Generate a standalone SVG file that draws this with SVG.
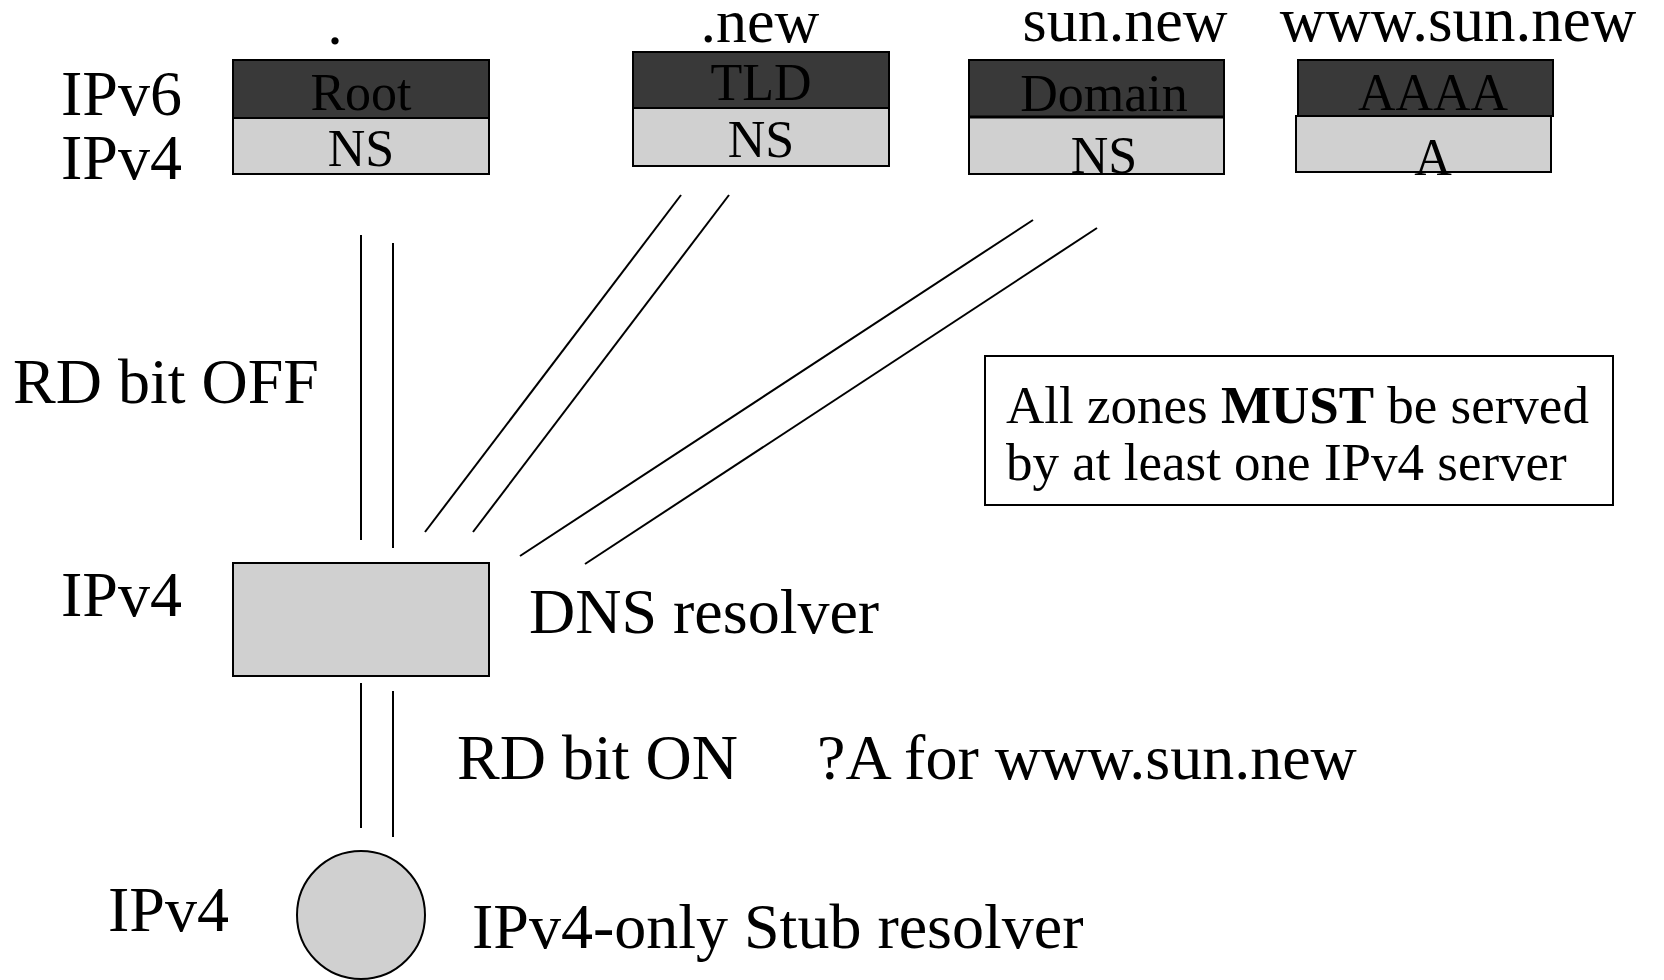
<svg xmlns="http://www.w3.org/2000/svg" width="1664" height="980" viewBox="0 0 1664 980">
<style>
text{font-family:"Liberation Serif","Times New Roman",serif;fill:#000}
.lbl{font-size:64px}
.top{font-size:62px}
.box{font-size:52px}
.note{font-size:53px}
.dark{fill:#393939;stroke:#000;stroke-width:2}
.light{fill:#d0d0d0;stroke:#000;stroke-width:2}
.ln{stroke:#000;stroke-width:2;fill:none}
</style>
<rect width="1664" height="980" fill="#fff"/>
<g id="side-labels">
<text class="lbl" x="61" y="115">IPv6</text>
<text class="lbl" x="61" y="179">IPv4</text>
<text class="lbl" x="13" y="403">RD bit OFF</text>
<text class="lbl" x="61" y="616">IPv4</text>
<text class="lbl" x="108" y="931">IPv4</text>
</g>
<g id="root">
<text class="top" x="335" y="44" text-anchor="middle">.</text>
<rect class="dark" x="233" y="60" width="256" height="58"/>
<rect class="light" x="233" y="118" width="256" height="56"/>
<text class="box" x="361" y="110" text-anchor="middle">Root</text>
<text class="box" x="361" y="166" text-anchor="middle">NS</text>
</g>
<g id="tld">
<text class="top" x="760" y="42" text-anchor="middle">.new</text>
<rect class="dark" x="633" y="52" width="256" height="56"/>
<rect class="light" x="633" y="108" width="256" height="58"/>
<text class="box" x="761" y="100" text-anchor="middle">TLD</text>
<text class="box" x="761" y="157" text-anchor="middle">NS</text>
</g>
<g id="domain">
<text class="top" x="1125" y="41" text-anchor="middle">sun.new</text>
<rect class="dark" x="969" y="60" width="255" height="57"/>
<rect class="light" x="969" y="117" width="255" height="57"/>
<line x1="969" y1="117" x2="1224" y2="117" stroke="#000" stroke-width="3"/>
<text class="box" x="1104" y="111" text-anchor="middle">Domain</text>
<text class="box" x="1104" y="173" text-anchor="middle">NS</text>
</g>
<g id="host">
<text class="top" x="1458" y="41" text-anchor="middle" style="font-size:63px">www.sun.new</text>
<rect class="dark" x="1298" y="60" width="255" height="56"/>
<rect class="light" x="1296" y="116" width="255" height="56"/>
<text class="box" x="1433" y="110" text-anchor="middle">AAAA</text>
<text class="box" x="1433" y="175" text-anchor="middle">A</text>
</g>
<g id="note">
<rect x="985" y="356" width="628" height="149" fill="#fff" stroke="#000" stroke-width="2"/>
<text class="note" x="1006" y="423">All zones <tspan font-weight="bold">MUST</tspan> be served</text>
<text class="note" x="1006" y="480">by at least one IPv4 server</text>
</g>
<g id="resolver">
<rect class="light" x="233" y="563" width="256" height="113"/>
<text class="lbl" x="529" y="633">DNS resolver</text>
</g>
<g id="stub">
<circle class="light" cx="361" cy="915" r="64"/>
<text class="lbl" x="472" y="948">IPv4-only Stub resolver</text>
</g>
<g id="query-labels">
<text class="lbl" x="457" y="779">RD bit ON</text>
<text class="lbl" x="817" y="779">?A for www.sun.new</text>
</g>
<g id="connectors" class="ln">
<line x1="361" y1="235" x2="361" y2="540"/>
<line x1="393" y1="243" x2="393" y2="548"/>
<line x1="681" y1="195" x2="425" y2="532"/>
<line x1="729" y1="195" x2="473" y2="532"/>
<line x1="1033" y1="220" x2="520" y2="556"/>
<line x1="1097" y1="228" x2="585" y2="564"/>
<line x1="361" y1="683" x2="361" y2="828"/>
<line x1="393" y1="691" x2="393" y2="837"/>
</g>
</svg>
